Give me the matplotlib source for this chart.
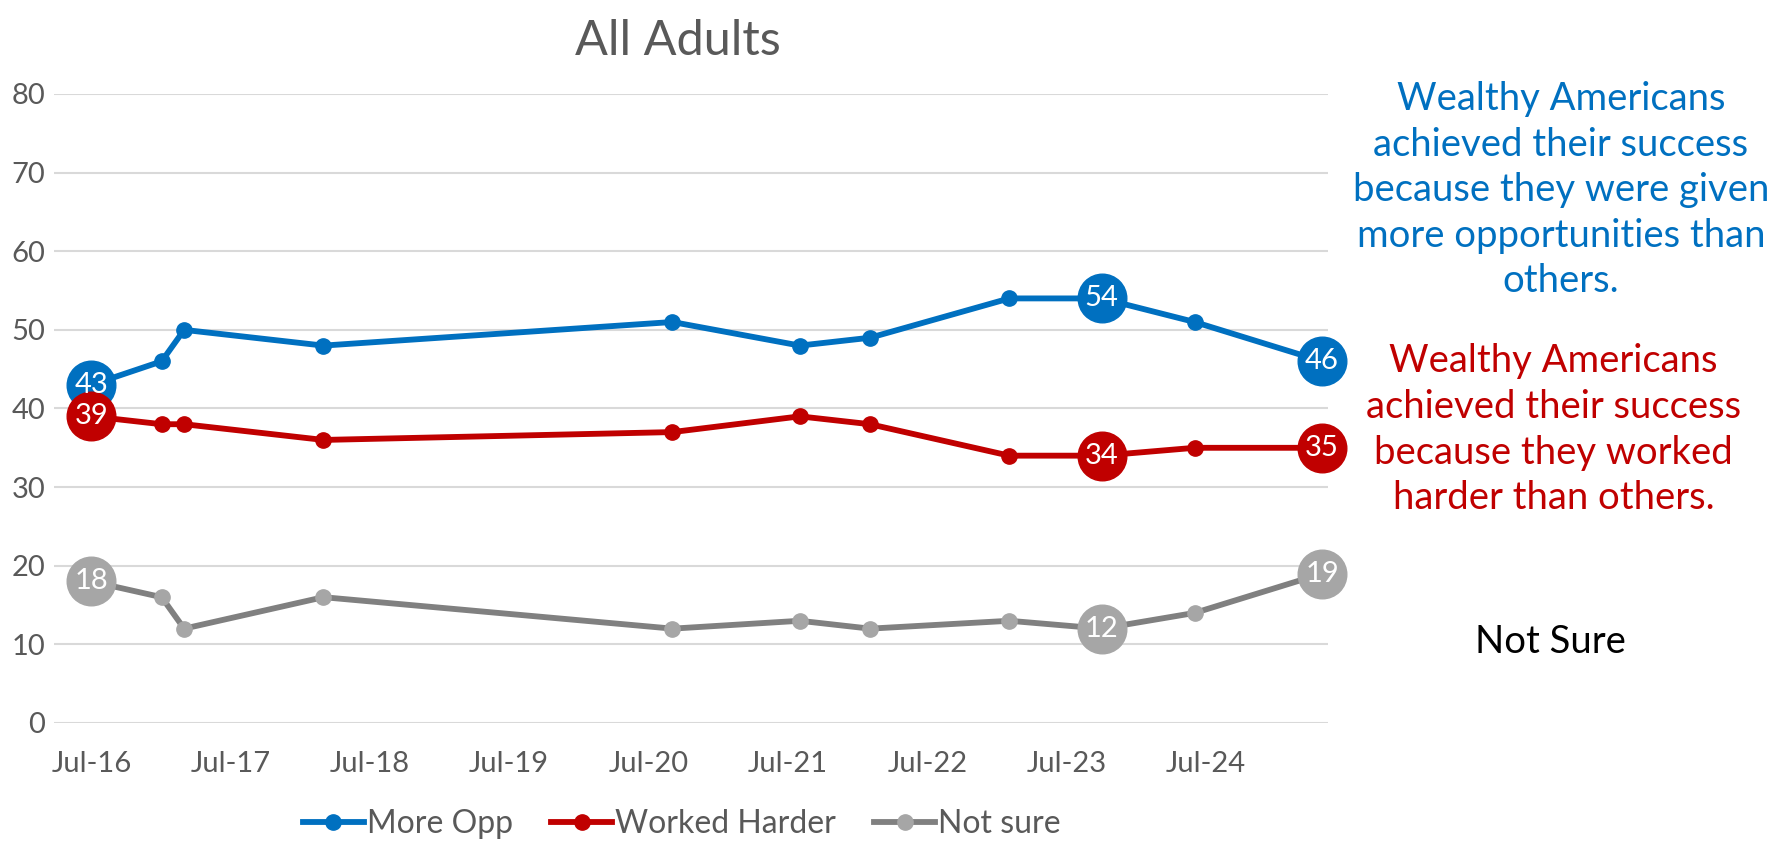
import matplotlib
matplotlib.use("Agg")
import matplotlib.pyplot as plt
import matplotlib.dates as mdates
from datetime import date

# survey waves (approximate dates)
dates = [date(2016, 7, 1), date(2017, 1, 1), date(2017, 3, 1), date(2018, 3, 1),
         date(2020, 9, 1), date(2021, 8, 1), date(2022, 2, 1), date(2023, 2, 1),
         date(2023, 10, 1), date(2024, 6, 1), date(2025, 5, 1)]

more_opp = [43, 46, 50, 48, 51, 48, 49, 54, 54, 51, 46]
worked_harder = [39, 38, 38, 36, 37, 39, 38, 34, 34, 35, 35]
not_sure = [18, 16, 12, 16, 12, 13, 12, 13, 12, 14, 19]

labeled = [0, 8, 10]
tick_years = list(range(2016, 2025))

BLUE = "#0070C0"
RED = "#C00000"
GRAY_LINE = "#808080"
GRAY_DOT = "#A6A6A6"
TEXT = "#595959"

fam = ["Lato", "DejaVu Sans"]

fig = plt.figure(figsize=(17.9, 8.46), dpi=100)
ax = fig.add_axes([0.030, 0.1454, 0.712, 0.7435])

series = [
    ("More Opp", more_opp, BLUE, BLUE),
    ("Worked Harder", worked_harder, RED, RED),
    ("Not sure", not_sure, GRAY_LINE, GRAY_DOT),
]

for name, vals, lc, mc in series:
    ax.plot(dates, vals, color=lc, lw=4.2, marker="o", ms=11,
            mfc=mc, mec=mc, label=name, zorder=3, clip_on=False)
    for i in labeled:
        ax.plot(dates[i], vals[i], marker="o", ms=35, color=mc, zorder=4,
                clip_on=False)
        ax.text(dates[i], vals[i], str(vals[i]), color="white", fontsize=21,
                ha="center", va="center", family=fam, zorder=5)

ax.set_ylim(0, 80)
ax.set_yticks(range(0, 81, 10))
ax.set_xlim(date(2016, 3, 24), date(2025, 5, 17))
ax.set_xticks([date(y, 7, 1) for y in tick_years])
ax.xaxis.set_major_formatter(mdates.DateFormatter("%b-%y"))

ax.grid(axis="y", color="#D9D9D9", lw=1.5)
ax.set_axisbelow(True)
for s in ax.spines.values():
    s.set_visible(False)
ax.tick_params(length=0, labelsize=21, labelcolor=TEXT)
ax.tick_params(axis="y", pad=6)
ax.tick_params(axis="x", pad=20)
for lab in ax.get_xticklabels() + ax.get_yticklabels():
    lab.set_family(fam)

ax.set_title("All Adults", fontsize=35, color=TEXT, family=fam, pad=28, x=0.49)

leg = fig.legend(loc="center", bbox_to_anchor=(0.381, 0.026), ncol=3,
                 frameon=False, prop={"family": fam, "size": 23},
                 handlelength=1.9, handletextpad=0.1, columnspacing=1.2)
for t in leg.get_texts():
    t.set_color(TEXT)

fig.text(0.872, 0.904,
         "Wealthy Americans\nachieved their success\nbecause they were given\n"
         "more opportunities than\nothers.",
         color=BLUE, fontsize=27.5, ha="center", va="top", family=fam,
         linespacing=1.33)
fig.text(0.868, 0.594,
         "Wealthy Americans\nachieved their success\nbecause they worked\n"
         "harder than others.",
         color=RED, fontsize=27.5, ha="center", va="top", family=fam,
         linespacing=1.33)
fig.text(0.866, 0.241, "Not Sure", color="black", fontsize=27.5,
         ha="center", va="center", family=fam)

fig.savefig("out.png", dpi=100)
